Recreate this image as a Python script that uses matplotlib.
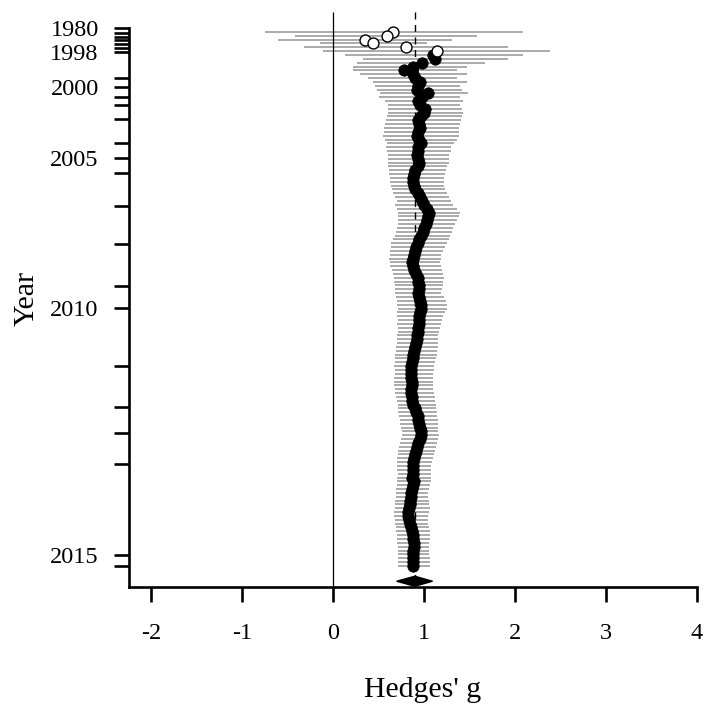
import matplotlib
matplotlib.use('Agg')
import matplotlib.pyplot as plt
import numpy as np

plt.rcParams['font.family'] = ['Liberation Serif', 'DejaVu Serif']

# Cumulative meta-analysis: estimate and 95% CI per added study (row 1 = oldest)
est = [0.66, 0.59, 0.35, 0.44, 0.80, 1.14, 1.10, 1.12, 0.98, 0.88,
       0.78, 0.88, 0.90, 0.96, 0.94, 0.92, 1.04, 0.98, 0.93, 0.96,
       1.01,
       1.00, 0.97, 0.94, 0.95, 0.96, 0.94, 0.92, 0.95, 0.97,
       0.94, 0.93, 0.92, 0.93, 0.95, 0.93, 0.90, 0.89, 0.88, 0.88,
       0.89, 0.90, 0.93, 0.96, 0.98,
       1.00, 1.03, 1.06, 1.05, 1.03, 1.02, 1.00, 0.99, 0.97, 0.95,
       0.93, 0.91, 0.90, 0.89, 0.88, 0.87, 0.88, 0.89, 0.91, 0.93, 0.94, 0.95, 0.95,
       0.93, 0.95, 0.96, 0.97, 0.97, 0.96, 0.95, 0.95, 0.95, 0.94, 0.93, 0.92,
       0.92, 0.91, 0.90, 0.89, 0.88, 0.88, 0.87, 0.86, 0.86, 0.86, 0.86, 0.87,
       0.87, 0.86, 0.86, 0.87, 0.87, 0.88, 0.90, 0.91, 0.93, 0.94, 0.95, 0.96,
       0.97, 0.97, 0.96, 0.94, 0.92, 0.91, 0.90, 0.89, 0.88, 0.88, 0.88, 0.88, 0.87,
       0.89, 0.88, 0.87, 0.86, 0.86, 0.85, 0.85, 0.84, 0.83, 0.83, 0.84, 0.85,
       0.86, 0.87, 0.88, 0.88, 0.89, 0.89, 0.88, 0.88, 0.88, 0.88, 0.88]

ci_lo = [-0.75, -0.42, -0.60, -0.14, -0.32, -0.11, 0.13, 0.33, 0.27, 0.22,
         0.22, 0.30, 0.39, 0.44, 0.46, 0.48, 0.52, 0.51, 0.57, 0.60,
         0.60,
         0.61, 0.59, 0.58, 0.57, 0.56, 0.56, 0.55, 0.57, 0.59,
         0.58, 0.59, 0.60, 0.60, 0.61, 0.60, 0.62, 0.62, 0.63, 0.63,
         0.64, 0.65, 0.66, 0.68, 0.70,
         0.68, 0.70, 0.72, 0.72, 0.71, 0.71, 0.70, 0.69, 0.68, 0.66,
         0.64, 0.64, 0.63, 0.63, 0.62, 0.63, 0.63, 0.65, 0.66, 0.67, 0.67, 0.68, 0.68,
         0.68, 0.69, 0.70, 0.70, 0.71, 0.70, 0.70, 0.71, 0.70, 0.71, 0.71, 0.70,
         0.70, 0.70, 0.69, 0.69, 0.68, 0.68, 0.68, 0.67, 0.68, 0.68, 0.67, 0.67,
         0.67, 0.68, 0.68, 0.69, 0.70, 0.71, 0.72, 0.72, 0.73, 0.74, 0.74, 0.75,
         0.76, 0.76, 0.75, 0.74, 0.73, 0.72, 0.71, 0.70, 0.70, 0.70, 0.70, 0.71, 0.70,
         0.70, 0.70, 0.69, 0.69, 0.69, 0.68, 0.68, 0.68, 0.67, 0.67, 0.68, 0.68,
         0.69, 0.69, 0.70, 0.70, 0.70, 0.71, 0.71, 0.71, 0.72, 0.72, 0.72]

ci_hi = [2.09, 1.58, 1.31, 1.03, 1.92, 2.38, 2.09, 1.92, 1.67, 1.47,
         1.36, 1.47, 1.36, 1.47, 1.40, 1.42, 1.48, 1.40, 1.43, 1.40,
         1.42,
         1.43, 1.42, 1.41, 1.40, 1.39, 1.38, 1.38, 1.36, 1.33,
         1.30, 1.30, 1.28, 1.27, 1.27, 1.25, 1.24, 1.23, 1.22, 1.22,
         1.22, 1.23, 1.25, 1.27, 1.30,
         1.32, 1.36, 1.40, 1.39, 1.36, 1.34, 1.32, 1.31, 1.29, 1.27,
         1.25, 1.23, 1.21, 1.19, 1.19, 1.18, 1.19, 1.20, 1.21, 1.22, 1.21, 1.21, 1.20,
         1.19, 1.22, 1.24, 1.25, 1.25, 1.23, 1.21, 1.20, 1.19, 1.18, 1.17, 1.16,
         1.16, 1.16, 1.15, 1.14, 1.14, 1.13, 1.12, 1.11, 1.11, 1.10, 1.10, 1.10,
         1.10, 1.10, 1.11, 1.12, 1.12, 1.13, 1.13, 1.14, 1.14, 1.15, 1.15, 1.16,
         1.16, 1.17, 1.16, 1.14, 1.13, 1.12, 1.11, 1.10, 1.09, 1.08, 1.08, 1.08, 1.08,
         1.08, 1.07, 1.06, 1.05, 1.05, 1.06, 1.06, 1.07, 1.06, 1.05, 1.05, 1.05,
         1.06, 1.07, 1.07, 1.07, 1.06, 1.06, 1.06, 1.06, 1.07, 1.07, 1.07]

# Overall (summary) estimate
overall_est = 0.90
overall_lo = 0.70
overall_hi = 1.095

# Year ticks (row where each publication year starts)
year_rows = [0, 1.2, 2.2, 3.2, 4.2, 5.2, 6.2, 13.0, 15.3, 17.9, 20.0, 23.6,
             29.9, 33.8, 37.7, 46.3, 56.2, 67.1, 72.8, 87.9, 98.6, 105.4,
             113.4, 137.1, 140.0]
year_labels = ['1980', '', '', '', '', '', '1998', '', '2000', '', '', '',
               '', '2005', '', '', '', '', '2010', '', '', '', '', '2015', '']

x_ticks = [-2, -1, 0, 1, 2, 3, 4]
x_labels = ['-2', '-1', '0', '1', '2', '3', '4']

est = np.array(est)
ci_lo = np.array(ci_lo)
ci_hi = np.array(ci_hi)
rows = np.arange(1, len(est) + 1)
diamond_row = len(est) + 4

fig = plt.figure(figsize=(7.05, 7.07), dpi=100)
ax = fig.add_axes([129 / 705, 1 - 587 / 707, 568 / 705, 575 / 707])

y_top, y_bot = -4.2, 145.5
ax.set_xlim(-2.24, 4.0)
ax.set_ylim(y_bot, y_top)

# confidence intervals
ax.hlines(rows, ci_lo, ci_hi, color='#aaaaaa', lw=1.4, zorder=1)

# reference lines
ax.vlines(0, y_top, y_bot, color='black', lw=0.9, zorder=2)
ax.vlines(overall_est, y_top, diamond_row, color='black', lw=1.0,
          linestyles=(0, (5, 4)), zorder=2)

# points: open if CI includes zero
signif = ci_lo > 0
ax.scatter(est[~signif], rows[~signif], s=62, facecolor='white',
           edgecolor='black', lw=1.0, zorder=4)
ax.scatter(est[signif], rows[signif], s=68, facecolor='black',
           edgecolor='black', lw=0.5, zorder=3)

# summary diamond
h = 1.3
ax.fill([overall_lo, overall_est, overall_hi, overall_est],
        [diamond_row, diamond_row - h, diamond_row, diamond_row + h],
        color='black', zorder=5)

# axes styling
for s in ['top', 'right']:
    ax.spines[s].set_visible(False)
for s in ['left', 'bottom']:
    ax.spines[s].set_linewidth(1.9)
ax.spines['left'].set_bounds(y_bot, 0)

ax.set_xticks(x_ticks)
ax.set_xticklabels(x_labels)
ax.set_yticks(year_rows)
ax.set_yticklabels(year_labels)
ax.tick_params(axis='both', direction='out', length=10.8, width=1.9,
               labelsize=17.5)
ax.tick_params(axis='x', pad=15)
ax.tick_params(axis='y', pad=11)

fig.text(423 / 705, 1 - 690 / 707, "Hedges' g", ha='center', va='center',
         fontsize=21.5)
fig.text(27 / 705, 1 - 298 / 707, 'Year', ha='center', va='center',
         rotation=90, fontsize=21.5)

fig.savefig('out.png', dpi=100)
